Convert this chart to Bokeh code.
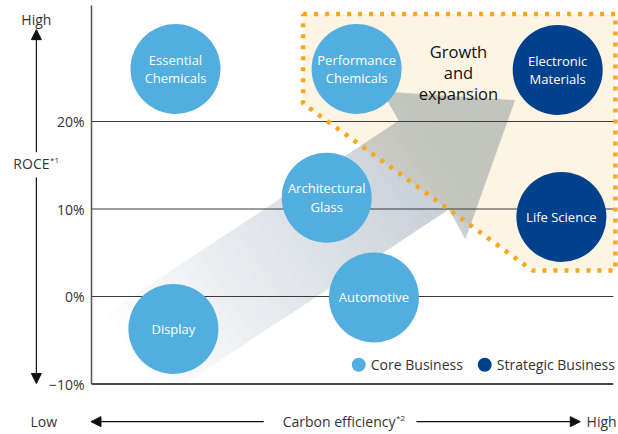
from bokeh.plotting import figure
from bokeh.models import Range1d, Arrow, NormalHead
from bokeh.core.properties import value
from bokeh.embed import file_html
from bokeh.resources import INLINE

# ---------------- data ----------------
SEGMENTS = ["Essential\nChemicals", "Performance\nChemicals", "Electronic\nMaterials",
            "Architectural\nGlass", "Life Science", "Automotive", "Display"]
CARBON_EFF = [16.0, 50.5, 88.8, 44.8, 89.5, 53.8, 15.6]      # relative position, low -> high
ROCE = [26.0, 26.0, 25.9, 11.3, 9.1, -0.1, -3.7]             # %
GROUP = ["Core", "Core", "Strategic", "Core", "Strategic", "Core", "Core"]

GROUPS = ["Core Business", "Strategic Business"]
ROCE_TICKS = [-10, 0, 10, 20]
ROCE_TICK_LABELS = ["\u221210%", "0%", "10%", "20%"]

# growth zone (carbon efficiency, ROCE)
ZONE_X = [40.3, 99.8, 99.8, 84.0, 40.3]
ZONE_Y = [32.3, 32.3, 2.97, 2.97, 22.06]
# big arrow outline: tail top, shaft top, head, tip, head, shaft bottom, tail bottom
ARROW_X = [-2.1, 58.6, 55.4, 80.6, 71.2, 68.1, 8.5]
ARROW_Y = [-3.9, 20.1, 23.4, 22.4, 6.6, 10.0, -13.6]

LIGHT = "#52AEDF"
DARK = "#00418D"
ORANGE = "#F6A71C"
PEACH = (253, 244, 228)
FONT = "Open Sans"
TXT = "#333333"

W, H = 618, 434
X0_PX, SX = 91.0, 5.25        # x=0 at px 91, px per unit
YM10_PX, SY = 383.5, 8.75     # y=-10 at px 383.5, px per unit

p = figure(width=W, height=H,
           x_range=Range1d(-X0_PX / SX, (W - X0_PX) / SX),
           y_range=Range1d(-10 - (H - YM10_PX) / SY, -10 + YM10_PX / SY),
           output_backend="svg", toolbar_location=None, title=None,
           x_axis_location=None, y_axis_location=None,
           min_border_left=0, min_border_right=0, min_border_top=0, min_border_bottom=0)
p.outline_line_color = None
p.grid.visible = False
p.background_fill_color = "white"
p.border_fill_color = "white"

X_END = 99.4
Y_TOP = 33.26

# ---------------- growth zone fill ----------------
p.patch(ZONE_X, ZONE_Y, fill_color="#%02X%02X%02X" % PEACH, line_color=None)

# ---------------- gradient arrow ----------------
def clip(poly, f):
    out = []
    n = len(poly)
    for i in range(n):
        P, Q = poly[i], poly[(i + 1) % n]
        fp, fq = f(P), f(Q)
        if fp <= 0:
            out.append(P)
        if (fp <= 0) != (fq <= 0):
            t = fp / (fp - fq)
            out.append((P[0] + t * (Q[0] - P[0]), P[1] + t * (Q[1] - P[1])))
    return out

arrow_px = [(x * SX, y * SY) for x, y in zip(ARROW_X, ARROW_Y)]
m0 = ((arrow_px[0][0] + arrow_px[6][0]) / 2, (arrow_px[0][1] + arrow_px[6][1]) / 2)
tip = arrow_px[3]
dx, dy = tip[0] - m0[0], tip[1] - m0[1]
L = (dx * dx + dy * dy) ** 0.5
ux, uy = dx / L, dy / L
along = lambda P: (P[0] - m0[0]) * ux + (P[1] - m0[1]) * uy

d1 = (ZONE_X[4] * SX, ZONE_Y[4] * SY)
d2 = (ZONE_X[3] * SX, ZONE_Y[3] * SY)
def side(P):
    return (d2[0] - d1[0]) * (P[1] - d1[1]) - (d2[1] - d1[1]) * (P[0] - d1[0])
sgn = 1 if side(tip) > 0 else -1
in_zone = lambda P: -sgn * side(P)      # <=0 inside peach zone
out_zone = lambda P: sgn * side(P)

# keep the arrow inside the plot frame (x >= 0, y >= about -11)
arrow_in = clip(arrow_px, lambda P: -P[0])
arrow_in = clip(arrow_in, lambda P: -11.0 * SY - P[1])

G = (196, 205, 213)
N = 45
xs, ys, cols = [], [], []
for i in range(N):
    s0, s1 = L * i / N, L * (i + 1) / N
    band = clip(arrow_in, lambda P: along(P) - s1)
    band = clip(band, lambda P: s0 - along(P)) if band else band
    if len(band) < 3:
        continue
    t = (s0 + s1) / 2 / L
    a = min(1.0, max(0.0, (t - 0.05) / 0.75))
    cw = tuple(255 - a * (255 - g) for g in G)
    cp = tuple(pc * c / 255 for pc, c in zip(PEACH, cw))
    for part, c in ((clip(band, out_zone), cw), (clip(band, in_zone), cp)):
        if len(part) >= 3:
            xs.append([q[0] / SX for q in part])
            ys.append([q[1] / SY for q in part])
            cols.append("#%02X%02X%02X" % tuple(int(round(v)) for v in c))
p.patches(xs, ys, fill_color=cols, line_color=cols, line_width=0.6)

# ---------------- gridlines & axes ----------------
grid_y = [t for t in ROCE_TICKS if t > ROCE_TICKS[0]]
p.segment(x0=[0] * len(grid_y), y0=grid_y, x1=[X_END] * len(grid_y), y1=grid_y,
          line_color="#3A3A3A", line_width=1)
p.segment(x0=[0], y0=[ROCE_TICKS[0]], x1=[X_END], y1=[ROCE_TICKS[0]],
          line_color="#111111", line_width=1.6)
p.segment(x0=[0], y0=[ROCE_TICKS[0]], x1=[0], y1=[Y_TOP],
          line_color="#555555", line_width=1.5)
p.text([-7 / SX] * len(ROCE_TICKS), ROCE_TICKS, text=ROCE_TICK_LABELS,
       text_color=TXT, text_font=value(FONT), text_font_size="14px",
       text_align="right", text_baseline="middle")

# ---------------- dotted zone border ----------------
p.line(ZONE_X + [ZONE_X[0]], ZONE_Y + [ZONE_Y[0]], line_color=ORANGE, line_width=4.5,
       line_dash="4 7", line_cap="butt")

# ---------------- bubbles ----------------
colors = [LIGHT if g == "Core" else DARK for g in GROUP]
p.scatter(CARBON_EFF, ROCE, size=90, fill_color=colors, line_color=None)
p.text(CARBON_EFF, ROCE, text=SEGMENTS, text_color="white", text_font=value(FONT),
       text_font_size="13px", text_align="center", text_baseline="middle",
       text_line_height=1.02)

p.text([69.9], [25.6], text=["Growth\nand\nexpansion"], text_color="#111111",
       text_font=value(FONT), text_font_size="16.5px", text_align="center",
       text_baseline="middle", text_line_height=0.9)

# ---------------- legend ----------------
LEG_X = [50.9, 74.9]
LEG_Y = [-7.8, -7.8]
p.scatter(LEG_X, LEG_Y, size=14, fill_color=[LIGHT, DARK], line_color=None)
p.text([x + 2.3 for x in LEG_X], LEG_Y, text=GROUPS, text_color=TXT,
       text_font=value(FONT), text_font_size="14px", text_baseline="middle",
       text_align="left")

# ---------------- axis annotations ----------------
def lab(x, y, txt, align="center", size="14px"):
    p.text([x], [y], text=[txt], text_align=align, text_baseline="middle",
           text_font=value(FONT), text_font_size=size, text_color=TXT)

lab(-10.5, 31.7, "High")
lab(-8.0, 15.2, "ROCE", align="right")
lab(-7.9, 15.7, "*1", align="left", size="8px")
lab(-9.1, -14.3, "Low")
lab(94.3, -14.3, "High", align="left")
lab(57.9, -14.3, "Carbon efficiency", align="right")
lab(58.0, -13.8, "*2", align="left", size="8px")

def arr(x0, y0, x1, y1):
    p.add_layout(Arrow(end=NormalHead(size=10, fill_color="#111111", line_color="#111111"),
                       x_start=x0, y_start=y0, x_end=x1, y_end=y1,
                       line_color="#111111", line_width=1.2))

arr(-10.5, 16.5, -10.5, 30.5)
arr(-10.5, 13.6, -10.5, -9.94)
arr(32.8, -14.3, -0.1, -14.3)
arr(61.9, -14.3, 93.1, -14.3)

open("out.html", "w").write(file_html(p, INLINE))
